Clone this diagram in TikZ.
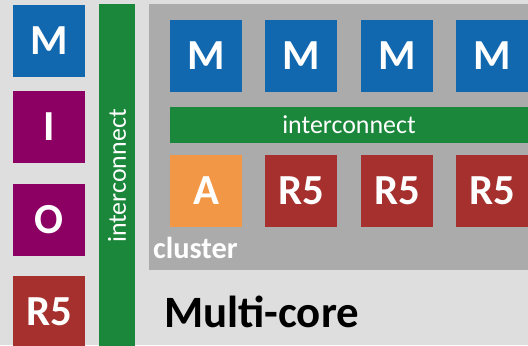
\documentclass[tikz,border=0pt]{standalone}
\usepackage{fontspec}
\setmainfont{Carlito}
\definecolor{bgc}{HTML}{DEDEDE}
\definecolor{clc}{HTML}{ABABAB}
\definecolor{blu}{HTML}{1268AF}
\definecolor{pur}{HTML}{8C0063}
\definecolor{red5}{HTML}{A6302E}
\definecolor{org}{HTML}{F29746}
\definecolor{grn}{HTML}{1A873A}
\tikzset{
  unit/.style={minimum width=72bp, minimum height=72bp, inner sep=0pt, text=white,
    font=\fontsize{43}{43}\selectfont\bfseries},
  mem/.style={unit, fill=blu},
  io/.style={unit, fill=pur},
  rfive/.style={unit, fill=red5},
  accel/.style={unit, fill=org},
  bus/.style={fill=grn, inner sep=0pt, text=white, font=\fontsize{26}{26}\selectfont},
}
\begin{document}
\begin{tikzpicture}[x=1bp, y=-1bp]
\useasboundingbox (0,0) rectangle (528,345);
\clip (0,0) rectangle (528,345);
\fill[bgc] (0,0) rectangle (528,345);
% cluster background
\node[fill=clc, inner sep=0pt, minimum width=380bp, minimum height=266bp, anchor=north west] (cl) at (149,4) {};
\node[anchor=base west, inner sep=0pt, text=white, font=\fontsize{30.5}{30.5}\selectfont\bfseries] (cllabel) at (153,258) {cluster};
% left column
\node[mem] (m0) at (49,41) {M};
\node[io] (i0) at (49,127) {I};
\node[io] (o0) at (49,220) {O};
\node[rfive] (r0) at (49,312) {R5};
% vertical interconnect
\node[bus, minimum width=36bp, minimum height=344bp] (vbus) at (117,176) {\rotatebox{90}{interconnect}};
% cluster contents
\node[mem] (m1) at (206,56) {M};
\node[mem] (m2) at (301,56) {M};
\node[mem] (m3) at (397,56) {M};
\node[mem] (m4) at (492,56) {M};
\node[bus, minimum width=358bp, minimum height=36bp] (hbus) at (349,125) {interconnect};
\node[accel] (a1) at (206,191) {A};
\node[rfive] (r1) at (301,191) {R5};
\node[rfive] (r2) at (397,191) {R5};
\node[rfive] (r3) at (492,191) {R5};
% title
\node[anchor=base west, inner sep=0pt, text=black, font=\fontsize{45}{45}\selectfont\bfseries] (title) at (164,327) {Multi-core};
\end{tikzpicture}
\end{document}
